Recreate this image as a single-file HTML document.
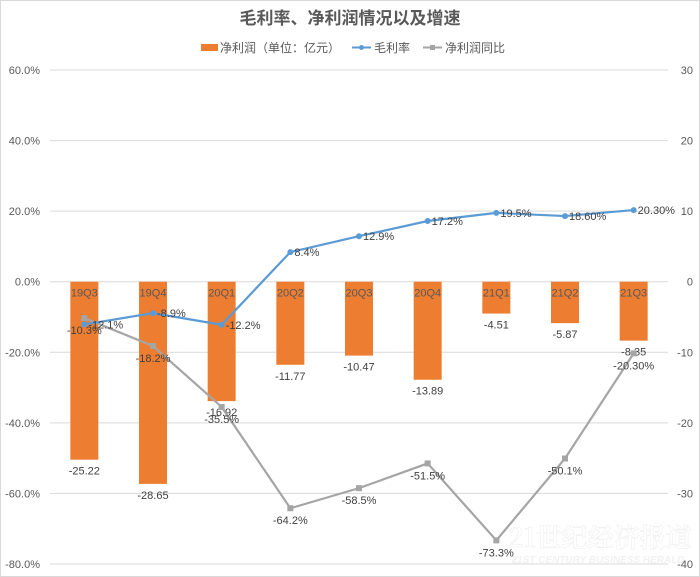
<!DOCTYPE html>
<html><head><meta charset="utf-8"><style>
html,body{margin:0;padding:0;background:#fff;}
svg{display:block;font-family:"Liberation Sans","Noto Sans CJK SC",sans-serif;}
</style></head><body>
<svg id="chart" width="700" height="577" viewBox="0 0 700 577" xmlns="http://www.w3.org/2000/svg">
<rect x="0.5" y="0.5" width="699" height="576" fill="#fff" stroke="#d9d9d9"/>
<text x="350" y="24" text-anchor="middle" font-size="17" font-weight="bold" fill="#595959">毛利率、净利润情况以及增速</text>
<g font-size="12" fill="#595959">
<g><rect x="201" y="44" width="17" height="7" fill="#ed7d31"/><text x="220" y="52">净利润（单位：亿元）</text></g>
<g><line x1="352" y1="47.5" x2="371" y2="47.5" stroke="#5b9bd5" stroke-width="2"/><circle cx="361.5" cy="47.5" r="2.5" fill="#5b9bd5"/><text x="374" y="52">毛利率</text></g>
<g><line x1="423" y1="47.5" x2="442" y2="47.5" stroke="#a5a5a5" stroke-width="2"/><rect x="430" y="45" width="5" height="5" fill="#a5a5a5"/><text x="445" y="52">净利润同比</text></g>
</g>
<g id="grid"></g>
<g id="yl" font-size="11" fill="#595959"></g>
<g id="yr" font-size="11" fill="#595959"></g>
<g id="bars"></g>
<g id="lines"></g>
<g opacity="0.9">
<text x="600" y="547" text-anchor="middle" font-size="26" font-weight="bold" fill="#ffffff" stroke="#eeeeee" stroke-width="0.6" font-family="'Noto Serif CJK SC',serif">21世纪经济报道</text>
<text x="598" y="563" text-anchor="middle" font-size="10" font-style="italic" font-weight="bold" fill="#f0f0f0">21ST CENTURY BUSINESS HERALD</text>
</g>
</svg>
<script>
const categories=["19Q3","19Q4","20Q1","20Q2","20Q3","20Q4","21Q1","21Q2","21Q3"];
const profit=[-25.22,-28.65,-16.92,-11.77,-10.47,-13.89,-4.51,-5.87,-8.35];
const profitLabels=["-25.22","-28.65","-16.92","-11.77","-10.47","-13.89","-4.51","-5.87","-8.35"];
const margin=[-12.1,-8.9,-12.2,8.4,12.9,17.2,19.5,18.6,20.3];
const marginLabels=["-12.1%","-8.9%","-12.2%","8.4%","12.9%","17.2%","19.5%","18.60%","20.30%"];
const yoy=[-10.3,-18.2,-35.5,-64.2,-58.5,-51.5,-73.3,-50.1,-20.3];
const yoyLabels=["-10.3%","-18.2%","-35.5%","-64.2%","-58.5%","-51.5%","-73.3%","-50.1%","-20.30%"];
const leftTicks=[60,40,20,0,-20,-40,-60,-80];
const rightTicks=[30,20,10,0,-10,-20,-30,-40];
const NS="http://www.w3.org/2000/svg";
const X0=50,X1=668,YT=70,YB=564;
const yL=v=>YT+(60-v)/140*(YB-YT);
const yR=v=>YT+(30-v)/70*(YB-YT);
const bw=(X1-X0)/categories.length;
const xC=i=>X0+bw*(i+0.5);
function mk(tag,attrs,parent,txt){const e=document.createElementNS(NS,tag);for(const k in attrs)e.setAttribute(k,attrs[k]);if(txt!==undefined)e.textContent=txt;parent.appendChild(e);return e;}
const grid=document.getElementById('grid'),yl=document.getElementById('yl'),yr=document.getElementById('yr');
leftTicks.forEach(t=>{const y=yL(t);
const l=mk('line',{x1:X0,x2:X1,y1:y,y2:y,stroke:'#d9d9d9','stroke-width':1},grid);


const tx=mk('text',{x:40,y:y+4,'text-anchor':'end'},yl,t.toFixed(1)+'%');

});
rightTicks.forEach(t=>{const y=yR(t);
const tx=mk('text',{x:693,y:y+4,'text-anchor':'end'},yr,String(t));

});
const bars=document.getElementById('bars');
profit.forEach((v,i)=>{const y0=yR(0),y1=yR(v);const x=xC(i);
const r=mk('rect',{x:x-14,y:Math.min(y0,y1),width:28,height:Math.abs(y1-y0),fill:'#ed7d31'},bars);


const c=mk('text',{x:x,y:y0+15,'text-anchor':'middle','font-size':11,fill:'#595959'},bars,categories[i]);


const lb=mk('text',{x:x,y:Math.max(y0,y1)+15,'text-anchor':'middle','font-size':11,fill:'#404040'},bars,profitLabels[i]);

});
const lines=document.getElementById('lines');
const pM=margin.map((v,i)=>xC(i)+','+yL(v)).join(' ');
const pY=yoy.map((v,i)=>xC(i)+','+yL(v)).join(' ');
const ly=mk('polyline',{points:pY,fill:'none',stroke:'#a5a5a5','stroke-width':2.2},lines);


const lm=mk('polyline',{points:pM,fill:'none',stroke:'#5b9bd5','stroke-width':2.2},lines);


yoy.forEach((v,i)=>{const x=xC(i),y=yL(v);
const m=mk('rect',{x:x-3,y:y-3,width:6,height:6,fill:'#a5a5a5'},lines);


const t=mk('text',{x:x,y:y+16,'text-anchor':'middle','font-size':11,fill:'#404040'},lines,yoyLabels[i]);

});
margin.forEach((v,i)=>{const x=xC(i),y=yL(v);
const m=mk('circle',{cx:x,cy:y,r:3,fill:'#5b9bd5'},lines);


const t=mk('text',{x:x+4,y:y+4,'font-size':11,fill:'#404040'},lines,marginLabels[i]);

});
</script>
</body></html>
